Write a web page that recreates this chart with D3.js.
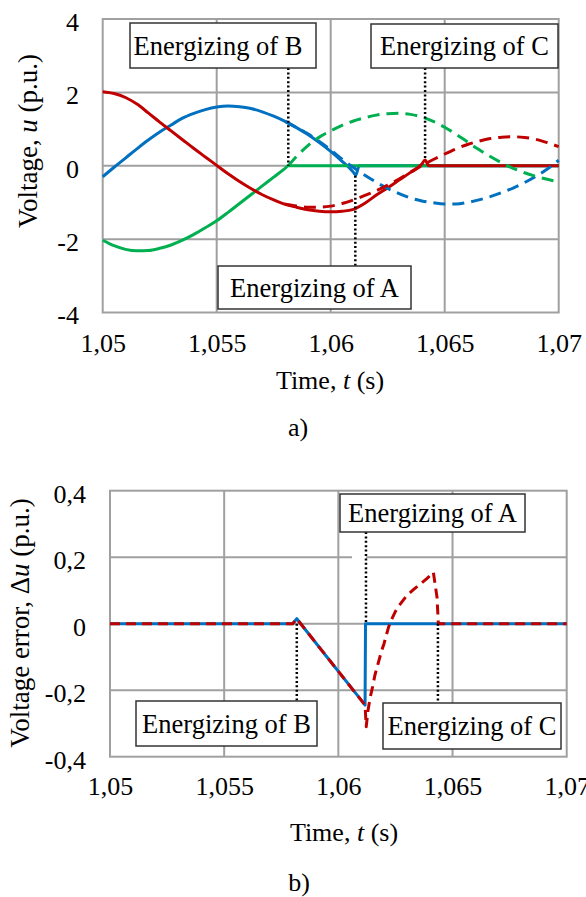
<!DOCTYPE html>
<html><head><meta charset="utf-8">
<script src="https://cdn.jsdelivr.net/npm/d3@7"></script>
<style>
body{margin:0;background:#fff}
svg{display:block}
text{font-family:"Liberation Serif","Times New Roman",serif;fill:#000}
</style>
</head><body>
<svg id="c" width="586" height="897"></svg>
<script>
// ---------- data ----------
const xTicks = [1.05, 1.055, 1.06, 1.065, 1.07];
const xTickLabels = ["1,05", "1,055", "1,06", "1,065", "1,07"];
const topYTicks = [-4, -2, 0, 2, 4];
const topYTickLabels = ["-4", "-2", "0", "2", "4"];
const botYTicks = [-0.4, -0.2, 0, 0.2, 0.4];
const botYTickLabels = ["-0,4", "-0,2", "0", "0,2", "0,4"];

// a) phase voltages (p.u.)
const blueSolidT = [1.05,1.0505,1.051,1.0515,1.052,1.0525,1.053,1.0535,1.054,1.0545,1.055,1.0555,1.056,1.0565,1.057,1.0575,1.058,1.0585,1.059,1.0595,1.06,1.0605,1.061,1.0611,1.06125,1.0615,1.062,1.07];
const blueSolidU = [-0.30,-0.04,0.21,0.46,0.70,0.92,1.11,1.30,1.43,1.53,1.60,1.63,1.61,1.56,1.47,1.35,1.21,1.04,0.85,0.63,0.39,0.12,-0.18,-0.26,0.0,0.0,0.0,0.0];
const blueDashT = [1.058,1.0585,1.059,1.0595,1.06,1.0605,1.061,1.0615,1.062,1.0625,1.063,1.0635,1.064,1.0645,1.065,1.0655,1.066,1.0665,1.067,1.0675,1.068,1.0685,1.069,1.0695,1.07];
const blueDashU = [1.21,1.04,0.87,0.66,0.43,0.18,-0.05,-0.26,-0.45,-0.62,-0.76,-0.88,-0.96,-1.01,-1.04,-1.04,-1.00,-0.93,-0.84,-0.73,-0.61,-0.46,-0.29,-0.09,0.15];
const greenSolidT = [1.05,1.0505,1.051,1.0515,1.052,1.0525,1.053,1.0535,1.054,1.0545,1.055,1.0555,1.056,1.0565,1.057,1.0575,1.058,1.05814,1.0582,1.059,1.07];
const greenSolidU = [-2.03,-2.18,-2.28,-2.32,-2.31,-2.25,-2.16,-2.03,-1.87,-1.69,-1.50,-1.27,-1.03,-0.79,-0.55,-0.31,-0.07,0.0,0.0,0.0,0.0];
const greenDashT = [1.05814,1.0585,1.059,1.0595,1.06,1.0605,1.061,1.0615,1.062,1.0625,1.063,1.0635,1.064,1.0645,1.065,1.0655,1.066,1.0665,1.067,1.0675,1.068,1.0685,1.069,1.0695,1.07];
const greenDashU = [0.0,0.25,0.55,0.78,0.95,1.10,1.22,1.31,1.38,1.42,1.43,1.40,1.33,1.21,1.05,0.86,0.65,0.44,0.25,0.08,-0.07,-0.19,-0.29,-0.37,-0.44];
const redSolidT = [1.05,1.0505,1.051,1.0515,1.052,1.0525,1.053,1.0535,1.054,1.0545,1.055,1.0555,1.056,1.0565,1.057,1.0575,1.058,1.0585,1.059,1.0595,1.06,1.0605,1.061,1.0611,1.0615,1.062,1.0625,1.063,1.0635,1.064,1.06414,1.0643,1.065,1.07];
const redSolidU = [2.02,1.97,1.86,1.68,1.44,1.19,0.95,0.71,0.47,0.24,0.01,-0.22,-0.43,-0.62,-0.79,-0.93,-1.05,-1.13,-1.20,-1.24,-1.255,-1.24,-1.19,-1.16,-1.02,-0.80,-0.60,-0.39,-0.18,0.05,0.16,0.0,0.0,0.0];
const redDashT = [1.058,1.0585,1.059,1.0595,1.06,1.0605,1.061,1.0615,1.062,1.0625,1.063,1.0635,1.064,1.0645,1.065,1.0655,1.066,1.0665,1.067,1.0675,1.068,1.0685,1.069,1.0695,1.07];
const redDashU = [-1.05,-1.10,-1.13,-1.13,-1.10,-1.03,-0.93,-0.81,-0.68,-0.53,-0.36,-0.18,0.0,0.17,0.32,0.46,0.58,0.67,0.74,0.78,0.79,0.77,0.72,0.63,0.52];

// b) voltage error (p.u.)
const errBlueT = [1.05,1.058,1.05818,1.0595,1.061,1.06117,1.06119,1.07];
const errBlueU = [0,0,0.015,-0.10,-0.23,-0.245,0,0];
const errRedT = [1.05,1.058,1.05818,1.0595,1.061,1.06117,1.06122,1.0613,1.0614,1.0615,1.0616,1.0617,1.0618,1.0619,1.062,1.0621,1.0622,1.06235,1.0625,1.0627,1.063,1.0633,1.0636,1.0639,1.06416,1.06432,1.06438,1.07];
const errRedU = [0,0,0.015,-0.10,-0.23,-0.245,-0.31,-0.26,-0.22,-0.19,-0.155,-0.13,-0.105,-0.08,-0.06,-0.035,-0.01,0.015,0.037,0.058,0.085,0.103,0.12,0.137,0.155,0.08,0,0];

// switching instants
const topEventT = [1.05814, 1.06108, 1.06414];
const topEventU = [0, -0.27, 0.17];
const botEventT = [1.05818, 1.06121, 1.06436];
const eventLabels = ["Energizing of B", "Energizing of A", "Energizing of C"];

// ---------- drawing ----------
const BLUE = "#0070c0", RED = "#c00000", GREEN = "#00b050", GRID = "#a0a0a0";
const svg = d3.select("#c");

function frame(x, y, yTicks, yLabels, xLabelBase, yLabelEnd) {
  const g = svg.append("g");
  const [x0, x1] = x.range(), [y0, y1] = y.range();
  g.selectAll(".vg").data(xTicks.slice(1, -1)).join("line")
    .attr("x1", d => x(d)).attr("x2", d => x(d)).attr("y1", y0).attr("y2", y1)
    .attr("stroke", GRID).attr("stroke-width", 2);
  g.selectAll(".hg").data(yTicks.slice(1, -1)).join("line")
    .attr("x1", x0).attr("x2", x1).attr("y1", d => y(d)).attr("y2", d => y(d))
    .attr("stroke", GRID).attr("stroke-width", 2);
  g.append("rect").attr("x", x0).attr("y", y1).attr("width", x1 - x0).attr("height", y0 - y1)
    .attr("fill", "none").attr("stroke", GRID).attr("stroke-width", 2);
  const ax = g.append("g").attr("transform", `translate(0,${y0})`)
    .call(d3.axisBottom(x).tickValues(xTicks).tickFormat((d, i) => xTickLabels[i]).tickSize(0));
  ax.select(".domain").remove();
  ax.selectAll("text").attr("y", xLabelBase - y0).attr("dy", 0)
    .attr("font-size", 26).attr("font-family", "Liberation Serif").attr("fill", "#000");
  const ay = g.append("g").attr("transform", `translate(${x0},0)`)
    .call(d3.axisLeft(y).tickValues(yTicks).tickFormat((d, i) => yLabels[i]).tickSize(0));
  ay.select(".domain").remove();
  ay.selectAll("text").attr("x", yLabelEnd - x0).attr("dy", "0.44em")
    .attr("font-size", 26).attr("font-family", "Liberation Serif").attr("fill", "#000");
  return g;
}

function series(g, x, y, T, U, color, dash, curve) {
  const line = d3.line().x(d => x(d[0])).y(d => y(d[1])).curve(curve);
  g.append("path").datum(d3.zip(T, U)).attr("d", line)
    .attr("fill", "none").attr("stroke", color).attr("stroke-width", 3)
    .attr("stroke-linejoin", "round")
    .attr("stroke-dasharray", dash || null);
}

function dotted(g, xp, ya, yb) {
  g.append("line").attr("x1", xp).attr("x2", xp).attr("y1", ya).attr("y2", yb)
    .attr("stroke", "#000").attr("stroke-width", 2.5).attr("stroke-dasharray", "2,2.4");
}

function note(g, text, b, dx) {
  g.append("rect").attr("x", b[0]).attr("y", b[1]).attr("width", b[2]).attr("height", b[3])
    .attr("fill", "#fff").attr("stroke", "#333").attr("stroke-width", 1.5);
  g.append("text").attr("x", b[0] + b[2] / 2 + (dx || 0)).attr("y", b[1] + b[3] / 2).attr("dy", "0.35em")
    .attr("text-anchor", "middle").attr("font-size", 26.5).text(text);
}

const smooth = d3.curveMonotoneX;

// ===== chart a) =====
const xT = d3.scaleLinear().domain([1.05, 1.07]).range([102.7, 558.7]);
const yT = d3.scaleLinear().domain([-4, 4]).range([312.5, 19]);
const gA = frame(xT, yT, topYTicks, topYTickLabels, 352, 79);
series(gA, xT, yT, blueSolidT, blueSolidU, BLUE, null, smooth);
series(gA, xT, yT, greenSolidT, greenSolidU, GREEN, null, smooth);
series(gA, xT, yT, redSolidT, redSolidU, RED, null, smooth);
series(gA, xT, yT, blueDashT, blueDashU, BLUE, "12,7", smooth);
series(gA, xT, yT, greenDashT, greenDashU, GREEN, "12,7", smooth);
series(gA, xT, yT, redDashT, redDashU, RED, "12,7", smooth);
const topBoxes = [[130, 23, 186, 45], [218, 266, 193, 43], [371, 24, 187, 44]];
dotted(gA, xT(topEventT[0]), topBoxes[0][1] + topBoxes[0][3], yT(topEventU[0]));
dotted(gA, xT(topEventT[1]), yT(topEventU[1]), topBoxes[1][1]);
dotted(gA, xT(topEventT[2]), topBoxes[2][1] + topBoxes[2][3], yT(topEventU[2]));
note(gA, eventLabels[0], topBoxes[0], -5);
note(gA, eventLabels[1], topBoxes[1], 0);
note(gA, eventLabels[2], topBoxes[2], 0);

const tA = svg.append("text").attr("x", 330).attr("y", 389).attr("text-anchor", "middle").attr("font-size", 26);
tA.append("tspan").text("Time, ");
tA.append("tspan").attr("font-style", "italic").text("t");
tA.append("tspan").text(" (s)");
const yA = svg.append("text").attr("transform", "translate(37,141) rotate(-90)").attr("text-anchor", "middle").attr("font-size", 27);
yA.append("tspan").text("Voltage, ");
yA.append("tspan").attr("font-style", "italic").text("u");
yA.append("tspan").text(" (p.u.)");
svg.append("text").attr("x", 298).attr("y", 436).attr("text-anchor", "middle").attr("font-size", 26).text("a)");

// ===== chart b) =====
const xB = d3.scaleLinear().domain([1.05, 1.07]).range([110, 566.7]);
const yB = d3.scaleLinear().domain([-0.4, 0.4]).range([756.7, 490.7]);
const gB = frame(xB, yB, botYTicks, botYTickLabels, 795, 86);
// small break in the 0,2 gridline, as in the original figure
gB.append("rect").attr("x", 352).attr("y", yB(0.2) - 3).attr("width", 14).attr("height", 6).attr("fill", "#fff");
series(gB, xB, yB, errBlueT, errBlueU, BLUE, null, d3.curveLinear);
series(gB, xB, yB, errRedT, errRedU, RED, "10,6", d3.curveLinear);
const botBoxes = [[136, 701, 181, 45], [340, 494, 185, 38], [383, 703, 178, 46]];
dotted(gB, xB(botEventT[0]), yB(0), botBoxes[0][1]);
dotted(gB, xB(botEventT[1]), botBoxes[1][1] + botBoxes[1][3], yB(0));
dotted(gB, xB(botEventT[2]), yB(0), botBoxes[2][1]);
note(gB, eventLabels[0], botBoxes[0], 0);
note(gB, eventLabels[1], botBoxes[1], 0);
note(gB, eventLabels[2], botBoxes[2], 0);

const tB = svg.append("text").attr("x", 344).attr("y", 841).attr("text-anchor", "middle").attr("font-size", 26);
tB.append("tspan").text("Time, ");
tB.append("tspan").attr("font-style", "italic").text("t");
tB.append("tspan").text(" (s)");
const yBt = svg.append("text").attr("transform", "translate(28.5,623) rotate(-90)").attr("text-anchor", "middle").attr("font-size", 27);
yBt.append("tspan").text("Voltage error, Δ");
yBt.append("tspan").attr("font-style", "italic").text("u");
yBt.append("tspan").text(" (p.u.)");
svg.append("text").attr("x", 299).attr("y", 891).attr("text-anchor", "middle").attr("font-size", 26).text("b)");
</script>
</body></html>
